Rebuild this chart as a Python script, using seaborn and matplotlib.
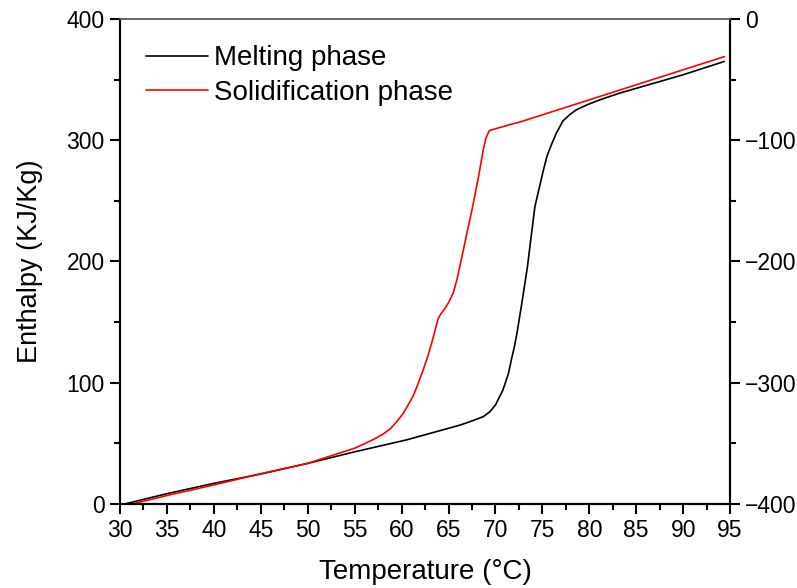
import pandas as pd
import matplotlib.pyplot as plt
import seaborn as sns
from matplotlib.ticker import MultipleLocator

# Werte
melt_temp = [30.5, 35, 40, 45, 50, 55, 60.5, 66.2, 67.3, 68.7, 69.4, 70.0, 70.8, 71.4, 71.7,
             72.0, 72.3, 72.8, 73.4, 73.8, 74.2, 74.8, 75.1, 75.5, 76.0, 76.5, 77.2, 77.9,
             78.6, 79.7, 81.0, 83.3, 90, 94.4]
melt_enth = [0, 8.5, 17, 24.7, 33.5, 43, 52.8, 65, 67.9, 72, 76, 81.6, 94, 108, 119,
             129, 141, 165, 195, 220, 245, 265, 275, 287, 297, 306, 316, 321,
             325, 329, 333, 339, 354, 365]

solid_temp = [31.3, 35, 40, 45, 50, 55, 56, 57.2, 58, 58.8, 59.5, 60.2, 61.2, 61.7, 62.3,
              62.8, 63.2, 63.9, 64.2, 64.6, 65.0, 65.5, 65.9, 66.6, 67.0, 67.5, 68.2, 68.7,
              69.0, 69.35, 71.6, 72.6, 83.3, 94.4]
solid_enth = [0, 7, 15.7, 25, 33.5, 46, 49.5, 54, 57.5, 62, 68, 75, 88.5, 98, 110.5,
              122, 132.5, 153, 157, 161, 166, 174, 185, 210, 225, 242.5, 270, 292,
              302, 308, 313, 315, 341.5, 369]

df = pd.concat([
    pd.DataFrame({'T': melt_temp, 'H': melt_enth, 'phase': 'Melting phase'}),
    pd.DataFrame({'T': solid_temp, 'H': solid_enth, 'phase': 'Solidification phase'}),
])

sns.set_style('ticks')
plt.rcParams['font.family'] = ['Liberation Sans', 'DejaVu Sans']
plt.rcParams['text.color'] = 'black'
plt.rcParams['axes.labelcolor'] = 'black'
plt.rcParams['xtick.color'] = 'black'
plt.rcParams['ytick.color'] = 'black'

fig = plt.figure(figsize=(7.97, 5.88), dpi=100)
ax = fig.add_axes([0.1506, 0.1429, 0.7654, 0.8248])

sns.lineplot(data=df, x='T', y='H', hue='phase', sort=False, estimator=None,
             palette={'Melting phase': 'black', 'Solidification phase': 'red'},
             linewidth=1.2, ax=ax)

ax.set_xlim(30, 95)
ax.set_ylim(0, 400)
ax.xaxis.set_major_locator(MultipleLocator(5))
ax.xaxis.set_minor_locator(MultipleLocator(2.5))
ax.yaxis.set_major_locator(MultipleLocator(100))
ax.yaxis.set_minor_locator(MultipleLocator(50))
ax.set_xlabel('Temperature (°C)', fontsize=20, labelpad=12)
ax.set_ylabel('Enthalpy (KJ/Kg)', fontsize=19.5, labelpad=17)

# zweite y-Achse rechts
ax2 = ax.twinx()
ax2.set_ylim(-400, 0)
ax2.yaxis.set_major_locator(MultipleLocator(100))
ax2.yaxis.set_minor_locator(MultipleLocator(50))

for a in (ax, ax2):
    a.tick_params(which='major', direction='out', length=7, width=1.5, labelsize=16.5, pad=4)
    a.tick_params(which='minor', direction='out', length=4, width=1.5)
    for s in ('left', 'right', 'bottom'):
        a.spines[s].set_linewidth(1.5)
        a.spines[s].set_color('black')
    a.spines['top'].set_color('#666666')
    a.spines['top'].set_linewidth(1.2)

ax.legend(loc='upper left', frameon=False, fontsize=20, handlelength=2.2,
          handletextpad=0.25, labelspacing=0.3, borderaxespad=0.55)

fig.savefig('out.png', dpi=100)
